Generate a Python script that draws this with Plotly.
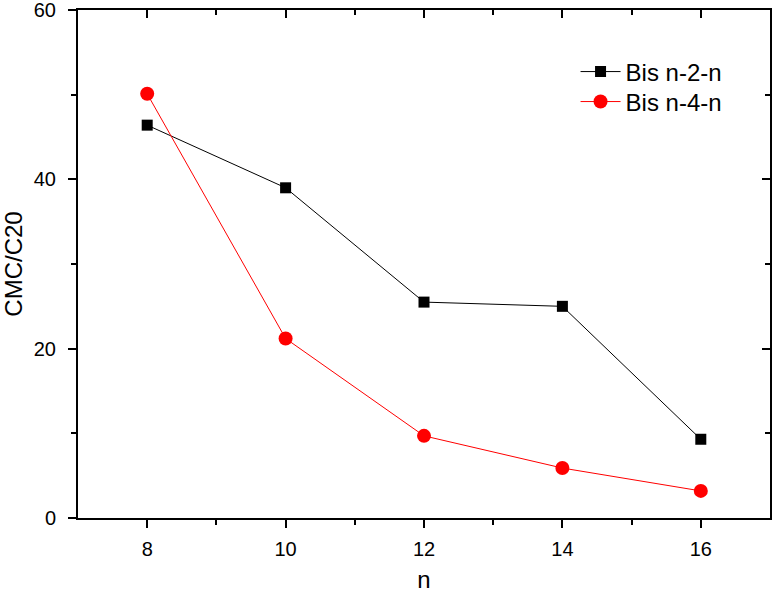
import plotly.graph_objects as go

n_vals = [8, 10, 12, 14, 16]
bis_2 = [46.4, 39.0, 25.5, 25.0, 9.3]
bis_4 = [50.1, 21.2, 9.7, 5.9, 3.2]
x_ticks = [8, 10, 12, 14, 16]
y_ticks = [0, 20, 40, 60]
x_minor = [9, 11, 13, 15]
y_minor = [10, 30, 50]

fig = go.Figure()
fig.add_trace(go.Scatter(x=n_vals, y=bis_2, mode="lines+markers", name="Bis n-2-n",
                         line=dict(color="black", width=1), legend="legend",
                         marker=dict(symbol="square", size=11, color="black")))
fig.add_trace(go.Scatter(x=n_vals, y=bis_4, mode="lines+markers", name="Bis n-4-n",
                         line=dict(color="red", width=1), legend="legend2",
                         marker=dict(symbol="circle", size=14, color="red")))
fig.add_trace(go.Scatter(x=[n_vals[0]], y=[bis_2[0]], xaxis="x2", yaxis="y2",
                         mode="markers", marker=dict(opacity=0), showlegend=False,
                         hoverinfo="skip"))

FAM = "Liberation Sans, Arial"
tfont = dict(family=FAM, size=20, color="black")
title_font = dict(family=FAM, size=24, color="black")
legend_font = dict(family=FAM, size=24, color="black")
common = dict(showline=True, linecolor="black", linewidth=2, showgrid=False,
              zeroline=False, tickcolor="black", tickwidth=2, tickfont=tfont,
              automargin=False, ticklabeloverflow="allow")
fig.update_layout(
    width=774, height=594,
    margin=dict(l=78, r=4, t=10, b=76),
    plot_bgcolor="white", paper_bgcolor="white",
    xaxis=dict(range=[7, 17], tickvals=x_ticks, ticks="outside", ticklen=8,
               ticklabelstandoff=4,
               minor=dict(tickvals=x_minor, ticks="outside", ticklen=5,
                          tickcolor="black", tickwidth=2),
               title=dict(text="n", font=title_font, standoff=12),
               **common),
    yaxis=dict(range=[0, 60], tickvals=y_ticks, ticks="outside", ticklen=8,
               ticklabelstandoff=8,
               minor=dict(tickvals=y_minor, ticks="outside", ticklen=5,
                          tickcolor="black", tickwidth=2),
               title=dict(text="CMC/C20", font=title_font, standoff=12),
               **common),
    xaxis2=dict(range=[7, 17], overlaying="x", side="top", tickvals=x_ticks,
                ticks="inside", ticklen=8, showticklabels=False,
                minor=dict(tickvals=x_minor, ticks="inside", ticklen=5,
                           tickcolor="black", tickwidth=2),
                **common),
    yaxis2=dict(range=[0, 60], overlaying="y", side="right", tickvals=y_ticks,
                ticks="inside", ticklen=8, showticklabels=False,
                minor=dict(tickvals=y_minor, ticks="inside", ticklen=5,
                           tickcolor="black", tickwidth=2),
                **common),
    legend=dict(x=0.719, y=0.878, xanchor="left", yanchor="middle",
                font=legend_font, bgcolor="rgba(0,0,0,0)", itemwidth=40),
    legend2=dict(x=0.719, y=0.819, xanchor="left", yanchor="middle",
                 font=legend_font, bgcolor="rgba(0,0,0,0)", itemwidth=40),
    showlegend=True,
)
fig.write_html("out.html",
               config={"displayModeBar": False},
               post_script="document.body.style.margin='0';"
                           "document.body.style.overflow='hidden';")
